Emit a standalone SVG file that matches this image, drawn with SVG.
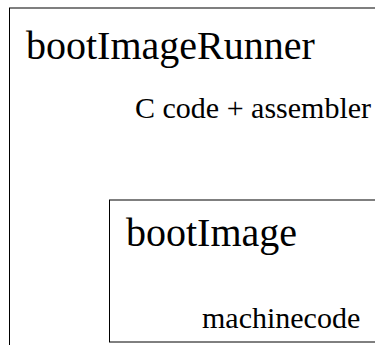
<svg xmlns="http://www.w3.org/2000/svg" width="375" height="345" viewBox="0 0 375 345">
  <style>
    .box { fill: #ffffff; stroke: #000000; stroke-width: 1; }
    .title { font-family: "Liberation Serif", "Times New Roman", serif; font-size: 40px; fill: #000000; }
    .sub { font-family: "Liberation Serif", "Times New Roman", serif; font-size: 30px; fill: #000000; }
  </style>
  <rect x="0" y="0" width="375" height="345" fill="#ffffff"/>
  <g id="bootImageRunner">
    <rect class="box" x="9.5" y="8" width="420" height="400"/>
    <text class="title" x="26" y="59">bootImageRunner</text>
    <text class="sub" x="135" y="118">C code + assembler</text>
  </g>
  <g id="bootImage">
    <rect class="box" x="109.5" y="200" width="320" height="142"/>
    <text class="title" x="126" y="246">bootImage</text>
    <text class="sub" x="202" y="328">machinecode</text>
  </g>
  <g id="connectors"></g>
</svg>
